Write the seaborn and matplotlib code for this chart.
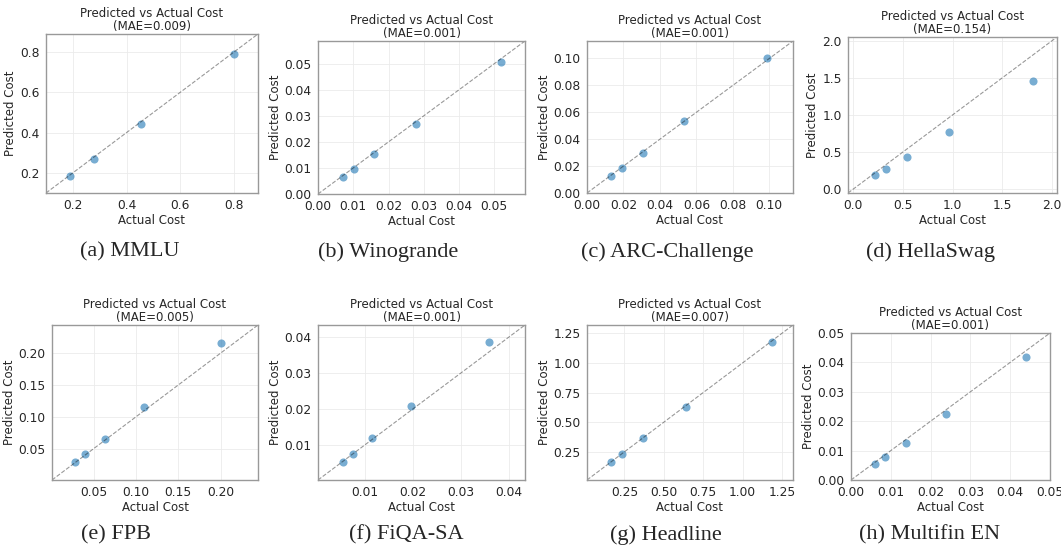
import seaborn as sns
import matplotlib.pyplot as plt
from matplotlib.ticker import MultipleLocator

# Cost prediction results per benchmark
captions = ["(a) MMLU", "(b) Winogrande", "(c) ARC-Challenge", "(d) HellaSwag",
            "(e) FPB", "(f) FiQA-SA", "(g) Headline", "(h) Multifin EN"]
mae = [0.009, 0.001, 0.001, 0.154, 0.005, 0.001, 0.007, 0.001]

actual_mmlu = [0.19, 0.28, 0.455, 0.80]
pred_mmlu = [0.185, 0.27, 0.443, 0.789]
actual_wino = [0.0071, 0.0101, 0.016, 0.0279, 0.0519]
pred_wino = [0.0065, 0.0094, 0.0153, 0.027, 0.0506]
actual_arc = [0.0133, 0.0192, 0.0305, 0.0531, 0.0985]
pred_arc = [0.0125, 0.0184, 0.0300, 0.0534, 0.1000]
actual_hella = [0.225, 0.333, 0.545, 0.968, 1.81]
pred_hella = [0.189, 0.270, 0.441, 0.777, 1.456]
actual_fpb = [0.028, 0.040, 0.063, 0.110, 0.200]
pred_fpb = [0.0285, 0.041, 0.065, 0.115, 0.215]
actual_fiqa = [0.0054, 0.0075, 0.0115, 0.0196, 0.0358]
pred_fiqa = [0.0053, 0.0076, 0.0120, 0.0208, 0.0386]
actual_head = [0.165, 0.235, 0.37, 0.64, 1.185]
pred_head = [0.16, 0.228, 0.364, 0.632, 1.176]
actual_multi = [0.0060, 0.0086, 0.0137, 0.0238, 0.0440]
pred_multi = [0.0055, 0.0078, 0.0127, 0.0224, 0.0418]

actuals = [actual_mmlu, actual_wino, actual_arc, actual_hella,
           actual_fpb, actual_fiqa, actual_head, actual_multi]
preds = [pred_mmlu, pred_wino, pred_arc, pred_hella,
         pred_fpb, pred_fiqa, pred_head, pred_multi]

# axis range and tick step for each panel
limits = [(0.10, 0.89), (0.0, 0.0587), (0.0, 0.113), (-0.05, 2.05),
          (0.001, 0.244), (0.0003, 0.0433), (0.012, 1.32), (0.0, 0.05)]
steps = [0.2, 0.01, 0.02, 0.5, 0.05, 0.01, 0.25, 0.01]

# panel boxes in pixels: left, right, top, bottom
boxes = [(46, 258, 34, 193), (318, 525, 41, 194), (587, 793, 41, 193), (848, 1057, 37, 193),
         (52, 258, 325, 480), (318, 525, 325, 480), (587, 793, 325, 480), (851, 1050, 333, 480)]
caption_pos = [(130, 252), (388, 252), (667, 252), (930, 252),
               (116, 535), (406, 535), (666, 535), (930, 535)]

sns.set_style("whitegrid")
plt.rcParams["font.family"] = ["DejaVu Sans"]

W, H = 1061, 550
fig = plt.figure(figsize=(W / 100, H / 100), dpi=100)

for i in range(8):
    l, r, t, b = boxes[i]
    ax = fig.add_axes([l / W, 1 - b / H, (r - l) / W, (b - t) / H])
    lo, hi = limits[i]
    sns.scatterplot(x=actuals[i], y=preds[i], ax=ax, color="#1f77b4", alpha=0.6,
                    s=34, linewidth=0)
    ax.plot([lo, hi], [lo, hi], "k--", alpha=0.4, lw=0.8)
    ax.set_xlim(lo, hi)
    ax.set_ylim(lo, hi)
    ax.xaxis.set_major_locator(MultipleLocator(steps[i]))
    ax.yaxis.set_major_locator(MultipleLocator(steps[i]))
    ax.grid(True, color="#ebebeb", lw=0.6)
    for sp in ax.spines.values():
        sp.set_color("#999999")
        sp.set_linewidth(1.0)
    ax.tick_params(labelsize=8.8, pad=1)
    ax.set_xlabel("Actual Cost", fontsize=8.5, labelpad=1)
    ax.set_ylabel("Predicted Cost", fontsize=8.5, labelpad=2)
    ax.set_title(f"Predicted vs Actual Cost\n(MAE={mae[i]:.3f})", fontsize=8.5,
                 pad=3, linespacing=1.0)
    cx, cy = caption_pos[i]
    fig.text(cx / W, 1 - cy / H, captions[i], ha="center", va="center",
             fontsize=16, family="Liberation Serif")

plt.savefig("out.png", dpi=100)
